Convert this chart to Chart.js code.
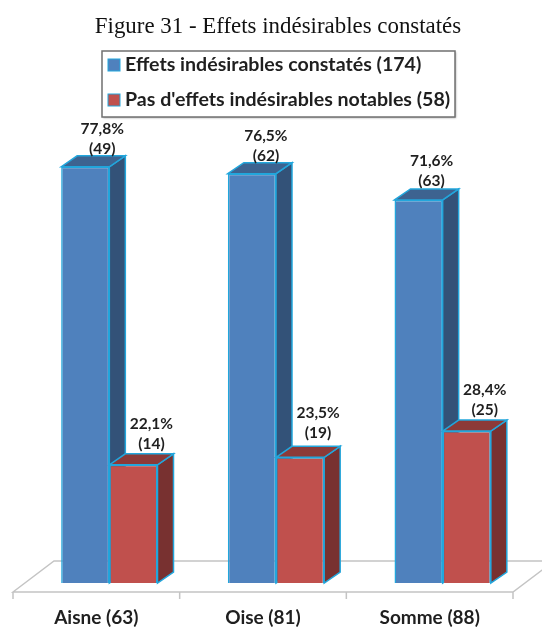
<!DOCTYPE html>
<html>
<head>
<meta charset="utf-8">
<script src="https://cdn.jsdelivr.net/npm/chart.js@4"></script>
<style>
  html, body { margin: 0; padding: 0; background: #fff; }
  #wrap { position: relative; width: 542px; height: 628px; }
</style>
</head>
<body>
<div id="wrap"><canvas id="chart"></canvas></div>
<script>
const chartTitle = 'Figure 31 - Effets indésirables constatés';
const categories = ['Aisne (63)', 'Oise (81)', 'Somme (88)'];
const seriesNames = ['Effets indésirables constatés (174)', "Pas d'effets indésirables notables (58)"];
const effetsPct = [77.8, 76.5, 71.6];
const pasEffetsPct = [22.1, 23.5, 28.4];
const effetsCount = [49, 62, 63];
const pasEffetsCount = [14, 19, 25];

const LABEL_FONT = 'bold 15.5px Lato';
const TEXT = '#1f1f1f';
const EDGE = '#22a6dc';
const faces = [
  { front: '#4f81bd', top: '#3d6390', side: '#335278' },
  { front: '#c0504d', top: '#8c3a38', side: '#783130' }
];
const DEPTH_X = 16;
const DEPTH_Y = -11;

function poly(ctx, pts, fill) {
  ctx.beginPath();
  pts.forEach((p, i) => i ? ctx.lineTo(p[0], p[1]) : ctx.moveTo(p[0], p[1]));
  ctx.closePath();
  ctx.fillStyle = fill;
  ctx.fill();
  ctx.strokeStyle = EDGE;
  ctx.lineWidth = 1.5;
  ctx.stroke();
}

// grey floor under the bars, then the top and side faces of every bar
const box3d = {
  id: 'box3d',
  beforeDatasetsDraw(chart) {
    const { ctx, chartArea, scales } = chart;
    const step = scales.x.width / categories.length;
    const x0 = chartArea.left - 13;
    const yFront = chartArea.bottom + 9;
    const yBack = chartArea.bottom - 22;

    ctx.save();
    ctx.strokeStyle = '#c4c4c4';
    ctx.lineWidth = 1.5;
    ctx.beginPath();
    ctx.moveTo(x0, yFront);
    ctx.lineTo(x0 + 41, yBack);
    ctx.lineTo(x0 + 541, yBack);
    ctx.lineTo(x0 + 500, yFront);
    ctx.closePath();
    for (let i = 0; i <= categories.length; i++) {
      ctx.moveTo(x0 + i * step, yFront);
      ctx.lineTo(x0 + i * step, yFront + 7);
    }
    ctx.stroke();

    chart.data.datasets.forEach((ds, d) => {
      chart.getDatasetMeta(d).data.forEach(bar => {
        const l = bar.x - bar.width / 2;
        const r = bar.x + bar.width / 2;
        poly(ctx, [[r, bar.y], [r + DEPTH_X, bar.y + DEPTH_Y], [r + DEPTH_X, bar.base + DEPTH_Y], [r, bar.base]], faces[d].side);
        poly(ctx, [[l, bar.y], [l + DEPTH_X, bar.y + DEPTH_Y], [r + DEPTH_X, bar.y + DEPTH_Y], [r, bar.y]], faces[d].top);
      });
    });
    ctx.restore();
  },
  afterDraw(chart) {
    const { ctx } = chart;
    ctx.save();
    ctx.textAlign = 'center';
    ctx.textBaseline = 'middle';

    // title
    ctx.fillStyle = '#111';
    ctx.font = '22.9px "Liberation Serif"';
    ctx.fillText(chartTitle, 278, 27);

    // values over each bar
    const counts = [effetsCount, pasEffetsCount];
    const shift = [[17, 14, 13], [18, 18, 18]];
    const rise = [[38, 38, 39], [41, 44, 41]];
    ctx.fillStyle = TEXT;
    ctx.font = LABEL_FONT;
    chart.data.datasets.forEach((ds, d) => {
      chart.getDatasetMeta(d).data.forEach((bar, i) => {
        const pct = ds.data[i].toFixed(1).replace('.', ',') + '%';
        const x = bar.x + shift[d][i];
        ctx.fillText(pct, x, bar.y - rise[d][i]);
        ctx.fillText('(' + counts[d][i] + ')', x, bar.y - rise[d][i] + 20);
      });
    });

    // legend box
    ctx.shadowColor = 'rgba(0,0,0,0.35)';
    ctx.shadowBlur = 2;
    ctx.shadowOffsetX = 1;
    ctx.shadowOffsetY = 1;
    ctx.fillStyle = '#fff';
    ctx.fillRect(102, 51, 353, 66);
    ctx.shadowColor = 'transparent';
    ctx.strokeStyle = '#707070';
    ctx.lineWidth = 1.5;
    ctx.strokeRect(102, 51, 353, 66);
    ctx.textAlign = 'left';
    ctx.font = 'bold 19.6px Lato';
    seriesNames.forEach((name, d) => {
      const y = 65 + d * 35;
      ctx.fillStyle = faces[d].front;
      ctx.fillRect(108, y - 6, 12, 12);
      ctx.strokeStyle = EDGE;
      ctx.lineWidth = 1;
      ctx.strokeRect(108, y - 6, 12, 12);
      ctx.fillStyle = TEXT;
      ctx.fillText(name, 125, y);
    });
    ctx.restore();
  }
};

new Chart(document.getElementById('chart'), {
  type: 'bar',
  data: {
    labels: categories,
    datasets: [
      { label: seriesNames[0], data: effetsPct, backgroundColor: faces[0].front, borderColor: EDGE, borderWidth: 1.5 },
      { label: seriesNames[1], data: pasEffetsPct, backgroundColor: faces[1].front, borderColor: EDGE, borderWidth: 1.5 }
    ]
  },
  options: {
    responsive: true,
    maintainAspectRatio: false,
    animation: false,
    layout: { padding: { left: 26, right: 16, top: 48 } },
    datasets: { bar: { categoryPercentage: 0.578, barPercentage: 1 } },
    plugins: {
      legend: { display: false },
      title: { display: false },
      tooltip: { enabled: false }
    },
    scales: {
      y: { display: false, min: 0, max: 100 },
      x: {
        afterFit(scale) { scale.height = 45; },
        border: { display: false },
        grid: { display: false, drawTicks: false },
        ticks: {
          padding: 23,
          labelOffset: -13,
          color: TEXT,
          font: { family: 'Lato', size: 19, weight: 'bold' }
        }
      }
    }
  },
  plugins: [box3d]
});
</script>
</body>
</html>
